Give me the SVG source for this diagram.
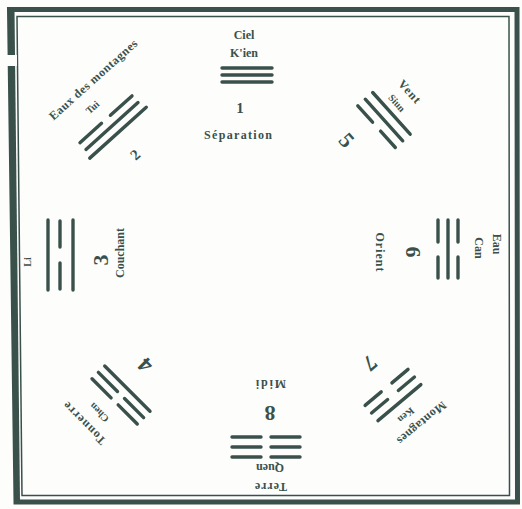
<svg xmlns="http://www.w3.org/2000/svg" width="522" height="509" viewBox="0 0 522 509">
<style>
.t{font-family:"Liberation Serif",serif;fill:#3a514b;text-anchor:middle;dominant-baseline:central;font-size:12px;font-weight:bold}
.s{font-size:10px}
.n{font-size:22px}
.n2{font-size:15px}
.ln{stroke:#3a514b;stroke-width:3.4;stroke-linecap:round;fill:none}
.fr{stroke:#3a514b;fill:none}
</style>
<rect width="522" height="509" fill="#fdfdfc"/>
<g id="frame">
<path class="fr" d="M9.5 9.5 L517 9.5 L517.5 502 L16 502 Z" stroke-width="5"/>
<path class="fr" d="M17 16.5 L509 16.5 L509.5 495.5 L22 495.5 Z" stroke-width="1.5"/>
<path class="fr" d="M12.5 10 L18 500" stroke-width="4"/>
<rect x="6" y="55" width="11" height="11" fill="#fdfdfc"/>
</g>
<g id="kien" transform="translate(247,75)">
<line class="ln" x1="-25" y1="-7" x2="25" y2="-7"/>
<line class="ln" x1="-25" y1="0" x2="25" y2="0"/>
<line class="ln" x1="-25" y1="7" x2="25" y2="7"/>
<text class="t" x="-3" y="-40">Ciel</text>
<text class="t" x="-3" y="-22">K'ien</text>
<text class="t n2" x="-7" y="33">1</text>
<text class="t" x="-9" y="60" textLength="68" lengthAdjust="spacing">Séparation</text>
</g>
<g id="tui" transform="translate(112,126) rotate(-42)">
<line class="ln" x1="-35" y1="-9" x2="-6" y2="-9"/>
<line class="ln" x1="6" y1="-9" x2="35" y2="-9"/>
<line class="ln" x1="-35" y1="0" x2="35" y2="0"/>
<line class="ln" x1="-38" y1="9" x2="38" y2="9"/>
<text class="t s" x="-2" y="-27">Tui</text>
<text class="t" x="17" y="-47" textLength="114" lengthAdjust="spacing">Eaux des montagnes</text>
<text class="t n2" x="-2" y="37">2</text>
</g>
<g id="siun" transform="translate(384,120) rotate(48)">
<line class="ln" x1="-28" y1="-10" x2="28" y2="-10"/>
<line class="ln" x1="-28" y1="0" x2="28" y2="0"/>
<line class="ln" x1="-28" y1="10" x2="-6" y2="10"/>
<line class="ln" x1="6" y1="10" x2="28" y2="10"/>
<text class="t s" x="-4" y="-21">Siun</text>
<text class="t" x="-4" y="-38" textLength="27" lengthAdjust="spacing">Vent</text>
<text class="t n" x="-10" y="41">5</text>
</g>
<g id="li" transform="translate(60,255) rotate(-90)">
<line class="ln" x1="-35" y1="-12" x2="35" y2="-12"/>
<line class="ln" x1="-34" y1="0" x2="-8" y2="0"/>
<line class="ln" x1="8" y1="0" x2="34" y2="0"/>
<line class="ln" x1="-35" y1="13" x2="35" y2="13"/>
<text class="t s" x="-7" y="-33">Li</text>
<text class="t n" x="-5" y="40">3</text>
<text class="t" x="2" y="60" textLength="50" lengthAdjust="spacing">Couchant</text>
</g>
<g id="kan" transform="translate(448,249) rotate(90)">
<line class="ln" x1="-29" y1="-10" x2="-7" y2="-10"/>
<line class="ln" x1="8" y1="-10" x2="29" y2="-10"/>
<line class="ln" x1="-29" y1="0" x2="29" y2="0"/>
<line class="ln" x1="-29" y1="10" x2="-7" y2="10"/>
<line class="ln" x1="8" y1="10" x2="29" y2="10"/>
<text class="t" x="-1" y="-31">Can</text>
<text class="t" x="-5" y="-49">Eau</text>
<text class="t n" x="3" y="35">6</text>
<text class="t" x="3" y="68" textLength="39" lengthAdjust="spacing">Orient</text>
</g>
<g id="chen" transform="translate(121,395) rotate(-135)">
<line class="ln" x1="-32" y1="9" x2="32" y2="9"/>
<line class="ln" x1="-32" y1="0" x2="-5" y2="0"/>
<line class="ln" x1="5" y1="0" x2="32" y2="0"/>
<line class="ln" x1="-32" y1="-9" x2="-5" y2="-9"/>
<line class="ln" x1="5" y1="-9" x2="32" y2="-9"/>
<text class="t s" x="3" y="-28">Chen</text>
<text class="t" x="6" y="-46" textLength="55" lengthAdjust="spacing">Tonnerre</text>
<text class="t n" x="4" y="38">4</text>
</g>
<g id="ken" transform="translate(393,395) rotate(140)">
<line class="ln" x1="-28" y1="-10" x2="28" y2="-10"/>
<line class="ln" x1="-28" y1="0" x2="-7" y2="0"/>
<line class="ln" x1="7" y1="0" x2="28" y2="0"/>
<line class="ln" x1="-28" y1="10" x2="-7" y2="10"/>
<line class="ln" x1="7" y1="10" x2="28" y2="10"/>
<text class="t s" x="3" y="-24">Ken</text>
<text class="t" x="-4" y="-40" textLength="60" lengthAdjust="spacing">Montagnes</text>
<text class="t n" x="-3" y="39">7</text>
</g>
<g id="kuen" transform="translate(266,447) rotate(180)">
<line class="ln" x1="-34" y1="-10" x2="-5" y2="-10"/>
<line class="ln" x1="5" y1="-10" x2="34" y2="-10"/>
<line class="ln" x1="-34" y1="0" x2="-5" y2="0"/>
<line class="ln" x1="5" y1="0" x2="34" y2="0"/>
<line class="ln" x1="-34" y1="10" x2="-5" y2="10"/>
<line class="ln" x1="5" y1="10" x2="34" y2="10"/>
<text class="t" x="-4" y="-21" textLength="28" lengthAdjust="spacing">Quen</text>
<text class="t" x="-5" y="-40" textLength="32" lengthAdjust="spacing">Terre</text>
<text class="t n" x="-4" y="34">8</text>
<text class="t" x="-5" y="63" textLength="30" lengthAdjust="spacing">Midi</text>
</g>
</svg>
